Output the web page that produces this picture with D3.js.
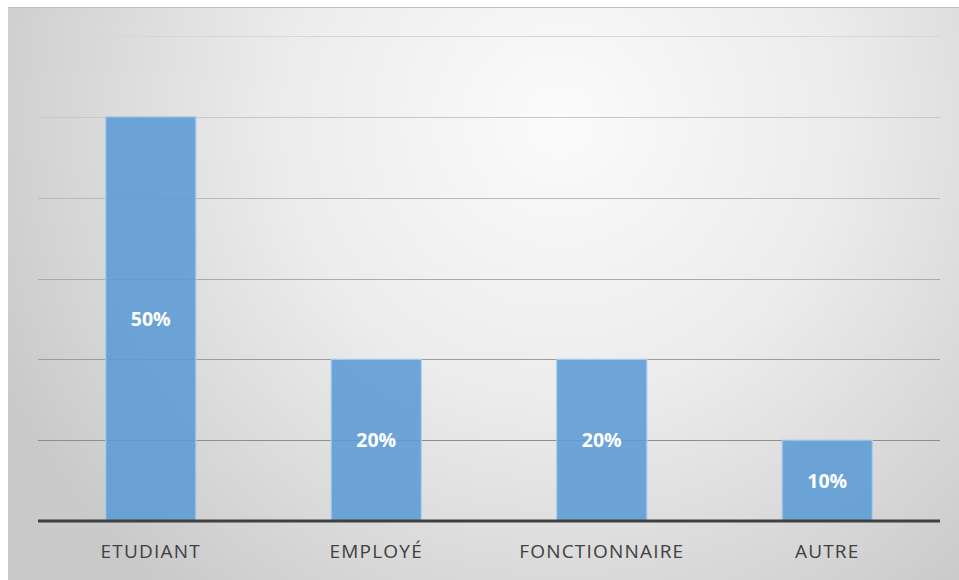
<!DOCTYPE html>
<html>
<head>
<meta charset="utf-8">
<script src="https://cdn.jsdelivr.net/npm/d3@7"></script>
<style>
  html, body { margin: 0; padding: 0; background: #ffffff; }
  svg { display: block; }
</style>
</head>
<body>
<svg id="chart" width="959" height="580"></svg>
<script>
// Répartition par profession
const categories = ["ETUDIANT", "EMPLOYÉ", "FONCTIONNAIRE", "AUTRE"];
const values = [50, 20, 20, 10];
const gridTicks = [0, 10, 20, 30, 40, 50, 60];

const frame = { left: 8, top: 7, right: 959, bottom: 580 };
const plot = { left: 38, right: 940, top: 36, bottom: 521 };

const svg = d3.select("#chart");
const defs = svg.append("defs");

// Fond : dégradé radial clair au centre-haut, gris sur les bords
const bg = defs.append("radialGradient")
  .attr("id", "bg")
  .attr("gradientUnits", "userSpaceOnUse")
  .attr("cx", 560).attr("cy", 120).attr("r", 620)
  .attr("fx", 560).attr("fy", 120);
bg.append("stop").attr("offset", "0%").attr("stop-color", "#fbfbfb");
bg.append("stop").attr("offset", "45%").attr("stop-color", "#ececec");
bg.append("stop").attr("offset", "80%").attr("stop-color", "#d6d6d6");
bg.append("stop").attr("offset", "100%").attr("stop-color", "#c9c9c9");

svg.append("rect")
  .attr("x", frame.left).attr("y", frame.top)
  .attr("width", frame.right - frame.left).attr("height", frame.bottom - frame.top)
  .attr("fill", "url(#bg)");
svg.append("line")
  .attr("x1", frame.left).attr("x2", frame.right)
  .attr("y1", frame.top + 0.5).attr("y2", frame.top + 0.5)
  .attr("stroke", "#bdbdbd").attr("stroke-width", 1);

const x = d3.scaleBand()
  .domain(categories)
  .range([plot.left, plot.right])
  .paddingInner(0.6)
  .paddingOuter(0.3);

const y = d3.scaleLinear()
  .domain([0, 60])
  .range([plot.bottom, plot.top]);

// Lignes de quadrillage, plus foncées vers le bas
const gridColor = d3.scaleLinear()
  .domain([10, 60])
  .range(["#8e8e8e", "#d6d6d6"]);

svg.append("g")
  .selectAll("line")
  .data(gridTicks.filter(d => d > 0))
  .join("line")
  .attr("x1", plot.left).attr("x2", plot.right)
  .attr("y1", d => Math.round(y(d)) + 0.5)
  .attr("y2", d => Math.round(y(d)) + 0.5)
  .attr("stroke", d => gridColor(d))
  .attr("stroke-width", 1.2);

// Barres
const bars = svg.append("g")
  .selectAll("g")
  .data(categories.map((c, i) => ({ c, v: values[i] })))
  .join("g");

bars.append("rect")
  .attr("x", d => x(d.c))
  .attr("y", d => y(d.v))
  .attr("width", x.bandwidth())
  .attr("height", d => y(0) - y(d.v))
  .attr("fill", "#5b9bd5")
  .attr("fill-opacity", 0.88)
  .attr("stroke", "#a9cdee")
  .attr("stroke-width", 1.2);

bars.append("text")
  .attr("x", d => x(d.c) + x.bandwidth() / 2)
  .attr("y", d => y(d.v / 2) + 7)
  .attr("text-anchor", "middle")
  .attr("font-family", "'Open Sans', 'DejaVu Sans', sans-serif")
  .attr("font-weight", "bold")
  .attr("font-size", 19.5)
  .attr("fill", "#ffffff")
  .text(d => d.v + "%");

// Axe horizontal
const xAxis = svg.append("g")
  .attr("transform", `translate(0,${plot.bottom})`)
  .call(d3.axisBottom(x).tickSize(0).tickPadding(24));
xAxis.select(".domain")
  .attr("d", `M${plot.left},0H${plot.right}`)
  .attr("stroke", "#404040")
  .attr("stroke-width", 3);
xAxis.selectAll("text")
  .attr("font-family", "'Open Sans', 'DejaVu Sans', sans-serif")
  .attr("font-size", 19)
  .attr("letter-spacing", "1.2px")
  .attr("fill", "#404040")
  .attr("dy", "0.71em");
</script>
</body>
</html>
